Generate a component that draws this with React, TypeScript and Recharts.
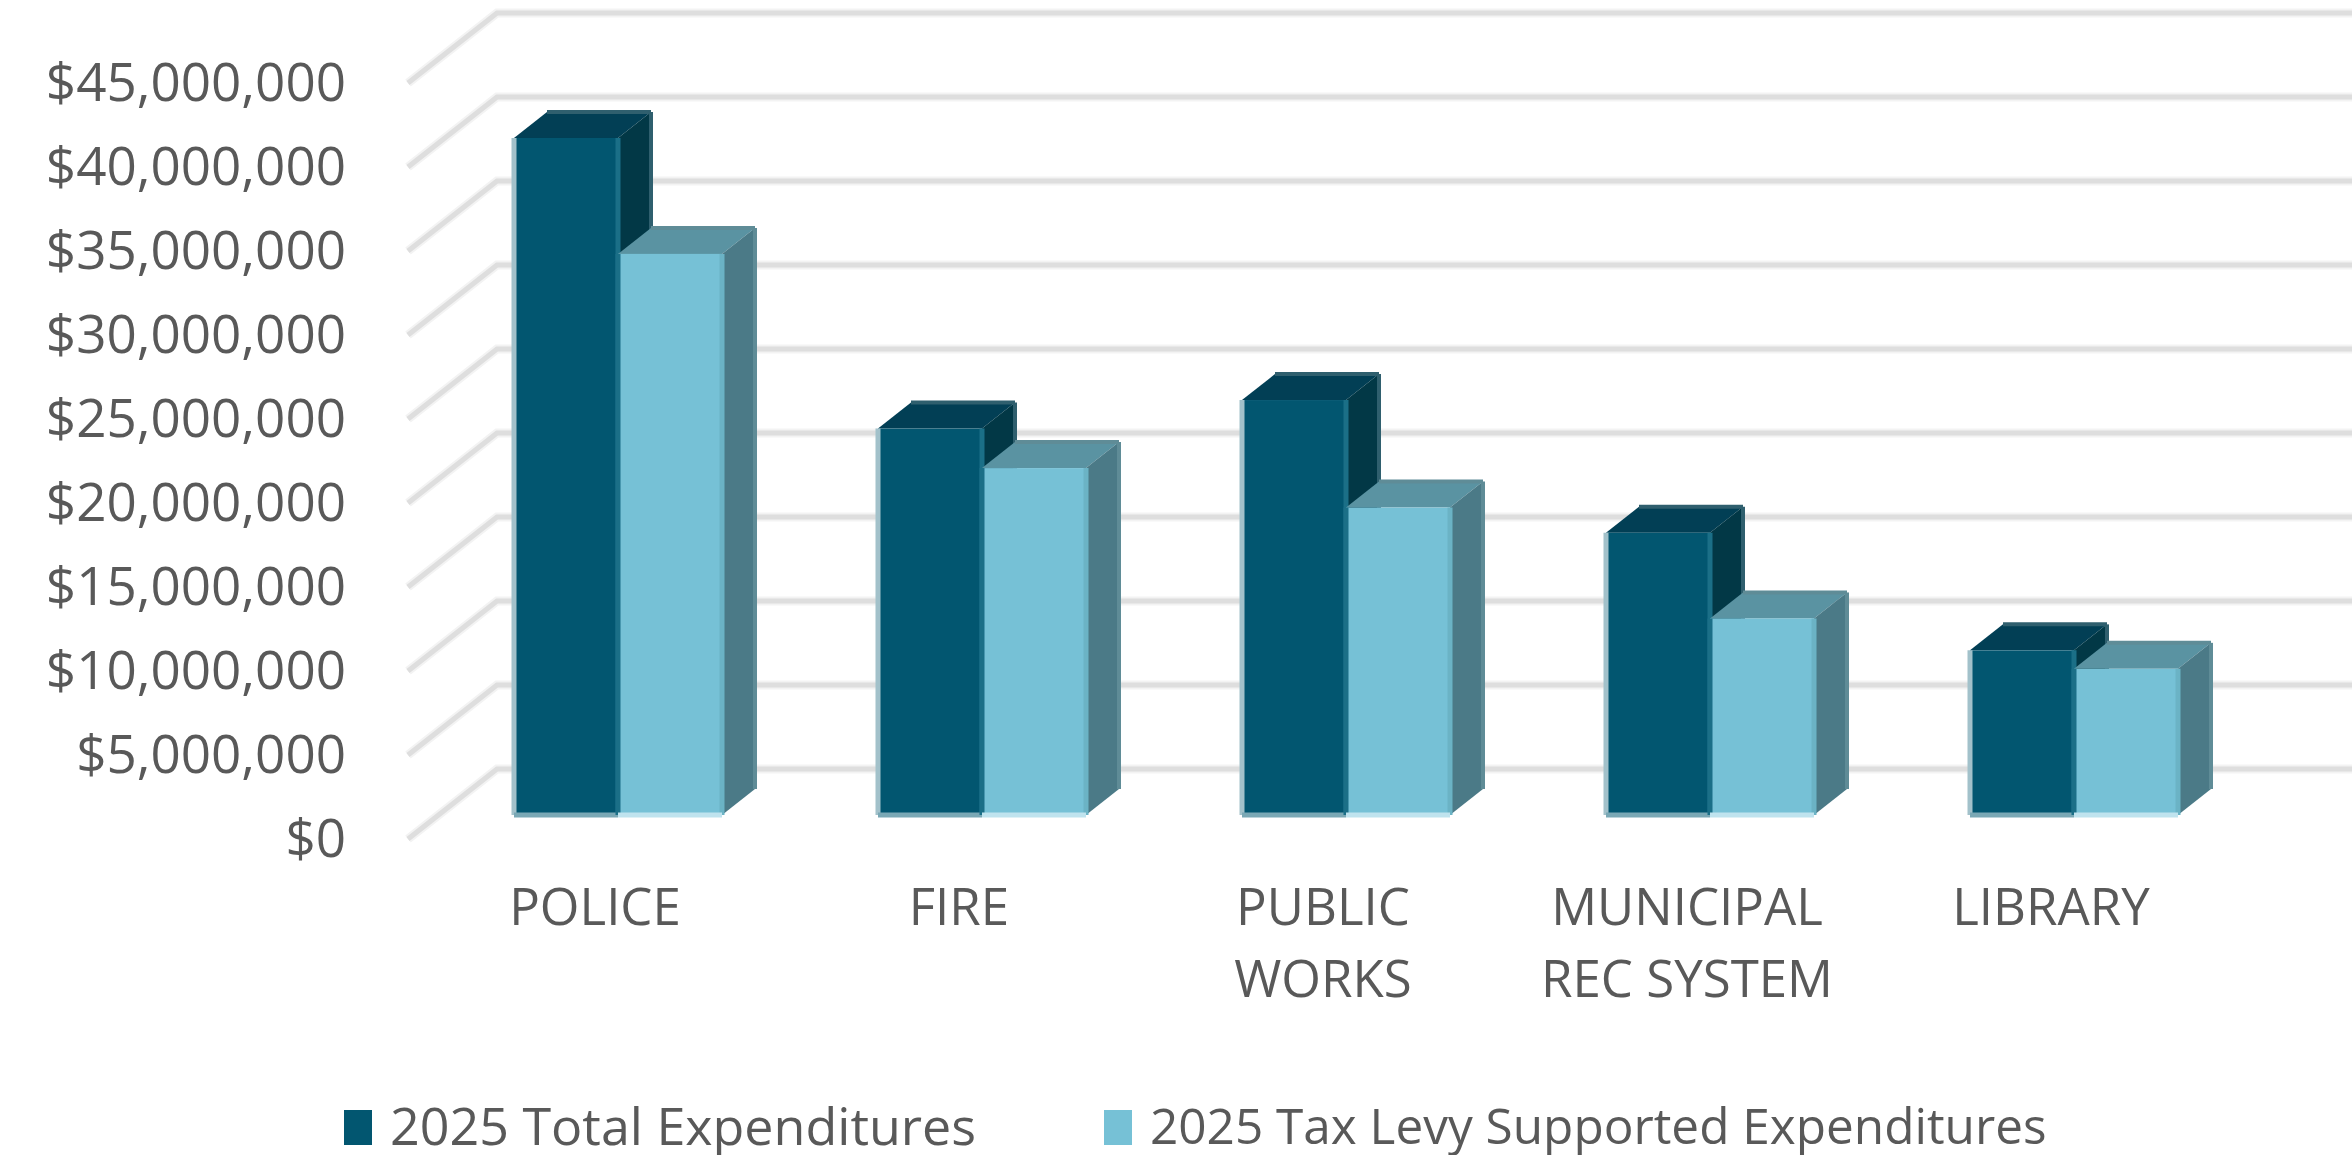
import React from 'react';
import { BarChart, Bar, XAxis, YAxis, CartesianGrid, Legend } from 'recharts';

const categories = ['POLICE', 'FIRE', 'PUBLIC WORKS', 'MUNICIPAL REC SYSTEM', 'LIBRARY'];
const totalExpenditures = [40300000, 23000000, 24700000, 16800000, 9800000];
const taxLevyExpenditures = [33400000, 20650000, 18300000, 11700000, 8700000];
const yTicks = [0, 5000000, 10000000, 15000000, 20000000, 25000000, 30000000, 35000000, 40000000, 45000000];
const categoryLines: Record<string, string[]> = {
    'PUBLIC WORKS': ['PUBLIC', 'WORKS'],
    'MUNICIPAL REC SYSTEM': ['MUNICIPAL', 'REC SYSTEM'],
};

const data = categories.map((name, i) => ({
    name,
    total: totalExpenditures[i],
    levy: taxLevyExpenditures[i],
}));

const TEXT = '#595959';
const FONT = '"Open Sans", sans-serif';
const DEPTH_X = 33;
const DEPTH_Y = 26;

const darkColors = {
    front: '#025670', top: '#023F55', side: '#023846',
    left: '#A2C1CA', bottom: '#7AA8B5', right: '#1B6F87', edge: '#2F5F6E',
};
const lightColors = {
    front: '#76C1D6', top: '#5A93A2', side: '#4B7A87',
    left: '#1B6F87', bottom: '#BFE3EE', right: '#6BB3C5', edge: '#5F8C97',
};

const Bar3D = (colors: typeof darkColors) => (props: any) => {
    const { x, y, width, height } = props;
    const r = x + width;
    const b = y + height;
    return (
        <g>
            <polygon points={`${x},${y} ${x + DEPTH_X},${y - DEPTH_Y} ${r + DEPTH_X},${y - DEPTH_Y} ${r},${y}`} fill={colors.top} />
            <polygon points={`${r},${y} ${r + DEPTH_X},${y - DEPTH_Y} ${r + DEPTH_X},${b - DEPTH_Y} ${r},${b}`} fill={colors.side} />
            <line x1={r + DEPTH_X} y1={y - DEPTH_Y} x2={r + DEPTH_X} y2={b - DEPTH_Y} stroke={colors.edge} strokeWidth={4} />
            <line x1={x + DEPTH_X} y1={y - DEPTH_Y} x2={r + DEPTH_X} y2={y - DEPTH_Y} stroke={colors.edge} strokeWidth={4} />
            <rect x={x} y={y} width={width} height={height} fill={colors.front} />
            <line x1={x} y1={y} x2={x} y2={b} stroke={colors.left} strokeWidth={5} />
            <line x1={r} y1={y} x2={r} y2={b} stroke={colors.right} strokeWidth={5} />
            <line x1={x} y1={b} x2={r} y2={b} stroke={colors.bottom} strokeWidth={5} />
        </g>
    );
};

const GridLine3D = (props: any) => {
    const { x1, x2, y1, key } = props;
    const points = `${x1 - 28},${y1 + 24} ${x1 + 61},${y1 - 46} ${x2 + 96},${y1 - 46}`;
    return (
        <g key={key}>
            <polyline points={points} fill="none" stroke="#F3F3F3" strokeWidth={9} />
            <polyline points={points} fill="none" stroke="#DEDEDE" strokeWidth={5} />
        </g>
    );
};

const YTick = (props: any) => {
    const { x, y, payload } = props;
    return (
        <text x={x - 82} y={y + 23} dy="0.36em" textAnchor="end" fontFamily={FONT} fontSize={53} fill={TEXT}>
            {`$${payload.value.toLocaleString('en-US')}`}
        </text>
    );
};

const XTick = (props: any) => {
    const { x, y, payload } = props;
    const lines = categoryLines[payload.value] ?? [payload.value];
    return (
        <text x={x - 23} textAnchor="middle" fontFamily={FONT} fontSize={51} fill={TEXT}>
            {lines.map((line: string, i: number) => (
                <tspan key={line} x={x - 23} y={y + 84 + i * 72} dy="0.36em">{line}</tspan>
            ))}
        </text>
    );
};

const LegendContent = (props: any) => {
    const items = props.payload ?? [];
    return (
        <div style={{ position: 'relative', width: 2352, height: 52 }}>
            {items.map((item: any, i: number) => (
                <div key={item.value} style={{ position: 'absolute', left: i === 0 ? 344 : 1104, top: 0, display: 'flex', alignItems: 'center', whiteSpace: 'nowrap' }}>
                    <span style={{ display: 'inline-block', width: 28, height: 35, background: item.color, marginRight: 18, position: 'relative', top: 2 }} />
                    <span style={{ fontFamily: FONT, fontSize: i === 0 ? 52 : 49.5, color: TEXT, lineHeight: '52px' }}>{item.value}</span>
                </div>
            ))}
        </div>
    );
};

export default function App() {
    return (
        <div style={{ position: 'absolute', left: 0, top: 0, width: 2352, height: 1155, background: '#fff', overflow: 'hidden' }}>
            <BarChart
                width={2352}
                height={1155}
                data={data}
                barSize={104}
                barGap={0}
                margin={{ top: 59, right: 96, bottom: 339, left: 0 }}
            >
                <CartesianGrid horizontal={GridLine3D} vertical={false} />
                <XAxis dataKey="name" height={1} axisLine={false} tickLine={false} tick={XTick} interval={0} />
                <YAxis width={436} domain={[0, 45000000]} ticks={yTicks} axisLine={false} tickLine={false} tick={YTick} interval={0} />
                <Legend
                    layout="horizontal"
                    verticalAlign="middle"
                    align="center"
                    itemSorter={null}
                    content={LegendContent}
                    wrapperStyle={{ left: 0, top: 1099, width: 2352, height: 52 }}
                />
                <Bar dataKey="total" name="2025 Total Expenditures" fill={darkColors.front} shape={Bar3D(darkColors)} isAnimationActive={false} />
                <Bar dataKey="levy" name="2025 Tax Levy Supported Expenditures" fill={lightColors.front} shape={Bar3D(lightColors)} isAnimationActive={false} />
            </BarChart>
        </div>
    );
}
